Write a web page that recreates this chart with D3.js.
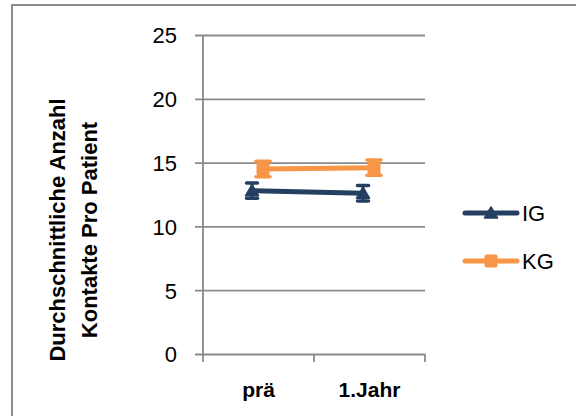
<!DOCTYPE html>
<html>
<head>
<meta charset="utf-8">
<script src="https://cdn.jsdelivr.net/npm/d3@7"></script>
<style>
  html, body { margin: 0; padding: 0; background: #fff; }
  svg { display: block; font-family: "Liberation Sans", Arial, sans-serif; }
</style>
</head>
<body>
<svg id="chart" width="576" height="416"></svg>
<script>
// Average number of contacts per patient, before and one year after
const categories = ["prä", "1.Jahr"];
const seriesNames = ["IG", "KG"];
const igValues = [12.8, 12.6];
const kgValues = [14.5, 14.6];
const igErrors = [0.6, 0.6];
const kgErrors = [0.6, 0.6];
const yTicks = [0, 5, 10, 15, 20, 25];
const yTitleLines = ["Durchschnittliche Anzahl", "Kontakte Pro Patient"];

const colors = { IG: "#243F60", KG: "#F79646" };
const gridColor = "#8A8A8A";

const series = [
  { name: "IG", values: igValues, errors: igErrors, marker: "triangle" },
  { name: "KG", values: kgValues, errors: kgErrors, marker: "square" }
];

const svg = d3.select("#chart");

// chart area frame (runs off the right and bottom edges)
svg.append("rect")
  .attr("x", 12).attr("y", 5)
  .attr("width", 620).attr("height", 460)
  .attr("fill", "#fff")
  .attr("stroke", "#8C8C8C")
  .attr("stroke-width", 2);

const plot = { left: 203, right: 425, top: 35, bottom: 354 };

const x = d3.scaleBand().domain(categories).range([plot.left, plot.right]);
const y = d3.scaleLinear().domain([0, 25]).range([plot.bottom, plot.top]);
// small horizontal offset of each series within a category
const dodge = d3.scalePoint().domain(seriesNames).range([-6.5, 4.5]);

// horizontal gridlines with short ticks to the left
const yAxis = d3.axisLeft(y).tickValues(yTicks)
  .tickSize(-(plot.right - plot.left) - 8)
  .tickPadding(0)
  .tickFormat(d3.format("d"));
const gy = svg.append("g")
  .attr("transform", `translate(${plot.right},0)`)
  .call(yAxis);
gy.select(".domain").remove();
gy.selectAll(".tick line")
  .attr("x1", 0)
  .attr("x2", -(plot.right - plot.left) - 8)
  .attr("stroke", gridColor).attr("stroke-width", 1.8);
gy.selectAll(".tick text")
  .attr("x", -(plot.right - 177))
  .attr("dy", "0.36em")
  .attr("fill", "#000")
  .style("font-size", "22px");

// vertical axis line
svg.append("line")
  .attr("x1", plot.left).attr("x2", plot.left)
  .attr("y1", y(25)).attr("y2", plot.bottom + 8)
  .attr("stroke", gridColor).attr("stroke-width", 1.8);

// category axis: ticks at the band boundaries
const boundaries = categories.map(c => x(c)).concat([x(categories[categories.length - 1]) + x.bandwidth()]);
svg.append("g").selectAll("line").data(boundaries.slice(1)).join("line")
  .attr("x1", d => d).attr("x2", d => d)
  .attr("y1", plot.bottom).attr("y2", plot.bottom + 8)
  .attr("stroke", gridColor).attr("stroke-width", 1.8);

svg.append("g").selectAll("text").data(categories).join("text")
  .attr("x", d => x(d) + x.bandwidth() / 2)
  .attr("y", 397)
  .attr("text-anchor", "middle")
  .attr("font-weight", "bold")
  .style("font-size", "21px")
  .text(d => d);

// y axis title, two rotated lines
const titleG = svg.append("g").attr("transform", "translate(0,230) rotate(-90)");
titleG.selectAll("text").data(yTitleLines).join("text")
  .attr("x", 0)
  .attr("y", (d, i) => 65 + i * 32)
  .attr("text-anchor", "middle")
  .attr("font-weight", "bold")
  .style("font-size", "22px")
  .text(d => d);

const line = d3.line();

function drawMarker(g, type, color) {
  if (type === "triangle") {
    g.append("path").attr("d", "M0,-6 L6.5,5 L-6.5,5 Z").attr("fill", color)
      .attr("stroke", color).attr("stroke-width", 1.5).attr("stroke-linejoin", "round");
  } else {
    g.append("rect").attr("x", -6.5).attr("y", -6.5).attr("width", 13).attr("height", 13)
      .attr("rx", 2).attr("fill", color);
  }
}

series.forEach(s => {
  const color = colors[s.name];
  const pts = categories.map((c, i) => [x(c) + x.bandwidth() / 2 + dodge(s.name), y(s.values[i])]);
  const g = svg.append("g");

  g.append("path")
    .attr("d", line(pts))
    .attr("fill", "none")
    .attr("stroke", color)
    .attr("stroke-width", 5)
    .attr("stroke-linecap", "round");

  // error bars
  const capHalf = s.name === "IG" ? 5.5 : 7;
  pts.forEach((p, i) => {
    const yTop = y(s.values[i] + s.errors[i]);
    const yBot = y(s.values[i] - s.errors[i]);
    g.append("line").attr("x1", p[0]).attr("x2", p[0]).attr("y1", yTop).attr("y2", yBot)
      .attr("stroke", color).attr("stroke-width", 3);
    [yTop, yBot].forEach(yy => {
      g.append("line").attr("x1", p[0] - capHalf).attr("x2", p[0] + capHalf)
        .attr("y1", yy).attr("y2", yy)
        .attr("stroke", color).attr("stroke-width", 3.5).attr("stroke-linecap", "round");
    });
    drawMarker(g.append("g").attr("transform", `translate(${p[0]},${p[1]})`), s.marker, color);
  });
});

// legend
const legend = svg.append("g");
series.forEach((s, i) => {
  const color = colors[s.name];
  const ly = 213 + i * 48;
  legend.append("line")
    .attr("x1", 465).attr("x2", 517).attr("y1", ly).attr("y2", ly)
    .attr("stroke", color).attr("stroke-width", 5).attr("stroke-linecap", "round");
  drawMarker(legend.append("g").attr("transform", `translate(491,${ly})`), s.marker, color);
  legend.append("text")
    .attr("x", 522).attr("y", ly)
    .attr("dy", "0.36em")
    .style("font-size", "22px")
    .text(s.name);
});
</script>
</body>
</html>
